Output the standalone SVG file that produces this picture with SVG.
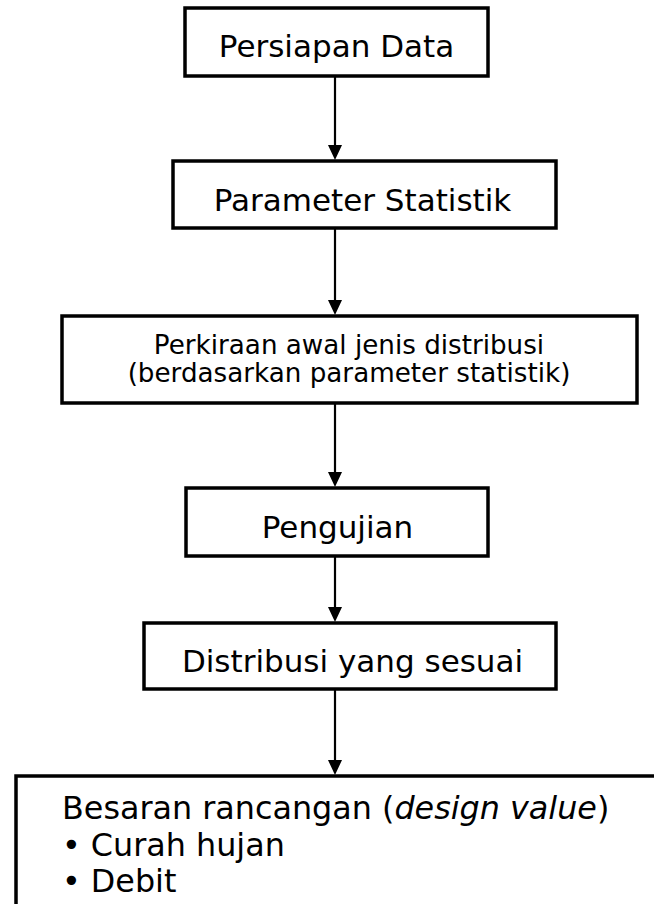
<svg xmlns="http://www.w3.org/2000/svg" width="654" height="904" viewBox="0 0 654 904">
<style>
.box{fill:#fff;stroke:#000;stroke-width:3.5}
.t{font-family:"DejaVu Sans",Verdana,sans-serif;font-size:31px;fill:#000}
.c{text-anchor:middle}
.s{font-size:26.2px}
.b{font-size:31.8px}
.edge{stroke:#000;stroke-width:2.2;fill:none}
</style>
<defs>
<marker id="ah" markerUnits="userSpaceOnUse" markerWidth="15" markerHeight="14" refX="0" refY="7" orient="auto">
<path d="M0,0 L15,7 L0,14 z" fill="#000"/>
</marker>
</defs>
<rect width="654" height="904" fill="#fff"/>
<g id="connectors">
<line class="edge" x1="335" y1="76" x2="335" y2="145" marker-end="url(#ah)"/>
<line class="edge" x1="335" y1="228" x2="335" y2="300" marker-end="url(#ah)"/>
<line class="edge" x1="335" y1="403" x2="335" y2="472" marker-end="url(#ah)"/>
<line class="edge" x1="335" y1="556" x2="335" y2="607" marker-end="url(#ah)"/>
<line class="edge" x1="335" y1="689" x2="335" y2="760" marker-end="url(#ah)"/>
</g>
<g id="persiapan">
<rect class="box" x="185" y="8" width="303" height="68"/>
<text class="t c" x="336.5" y="57">Persiapan Data</text>
</g>
<g id="parameter">
<rect class="box" x="173" y="161" width="383" height="67"/>
<text class="t c" x="362.5" y="211">Parameter Statistik</text>
</g>
<g id="perkiraan">
<rect class="box" x="62" y="316" width="575" height="87"/>
<text class="t c s" x="349" y="354">Perkiraan awal jenis distribusi</text>
<text class="t c s" x="349" y="382">(berdasarkan parameter statistik)</text>
</g>
<g id="pengujian">
<rect class="box" x="186" y="488" width="302" height="68"/>
<text class="t c" x="337.5" y="538">Pengujian</text>
</g>
<g id="distribusi">
<rect class="box" x="144" y="623" width="412" height="66"/>
<text class="t c" x="352.5" y="672">Distribusi yang sesuai</text>
</g>
<g id="besaran">
<rect class="box" x="16" y="776" width="680" height="200"/>
<text class="t b" x="62" y="819">Besaran rancangan (<tspan font-style="italic">design value</tspan>)</text>
<text class="t b" x="62" y="856">• Curah hujan</text>
<text class="t b" x="62" y="892">• Debit</text>
</g>
</svg>
